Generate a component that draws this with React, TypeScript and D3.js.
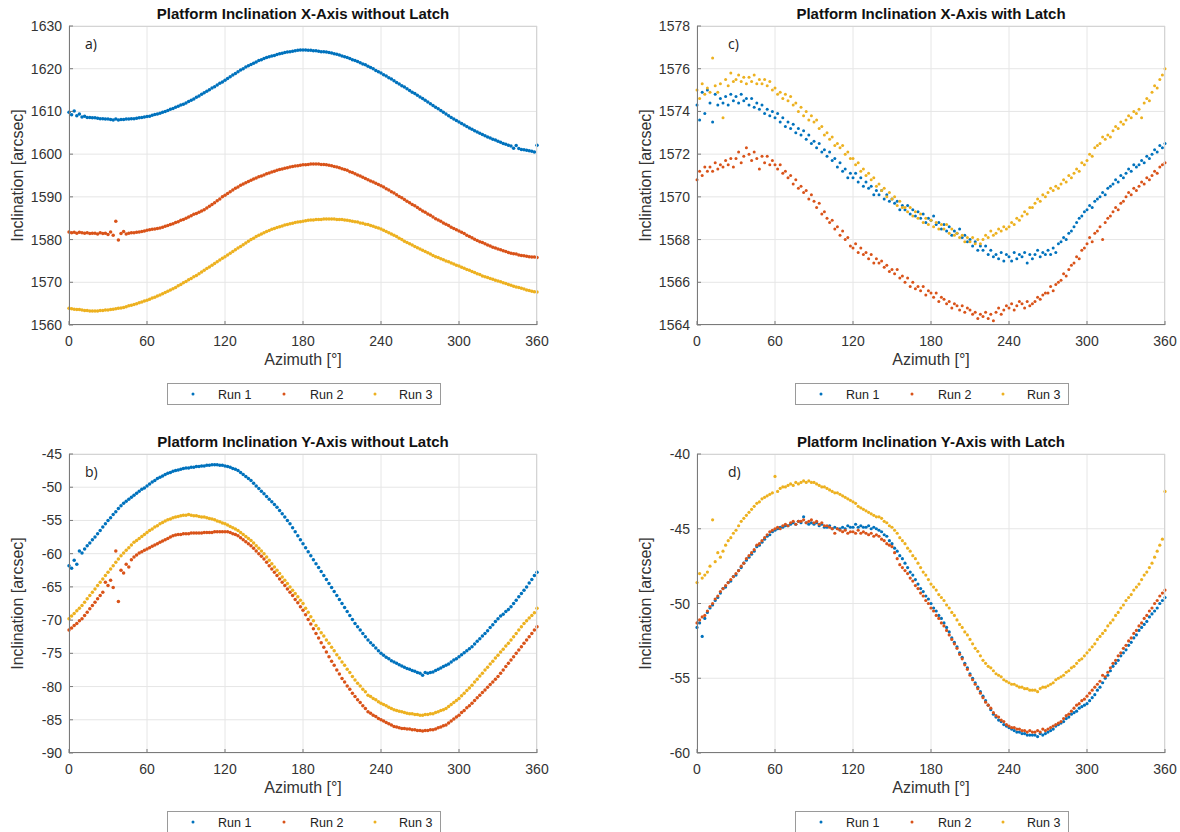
import React from 'react';
import * as d3 from 'd3';

// azimuth samples, degrees
const azimuth = [
  0, 2, 4, 6, 8, 10, 12, 14, 16, 18, 20, 22, 24, 26, 28, 30, 32, 34, 36, 38,
  40, 42, 44, 46, 48, 50, 52, 54, 56, 58, 60, 62, 64, 66, 68, 70, 72, 74, 76, 78,
  80, 82, 84, 86, 88, 90, 92, 94, 96, 98, 100, 102, 104, 106, 108, 110, 112, 114, 116, 118,
  120, 122, 124, 126, 128, 130, 132, 134, 136, 138, 140, 142, 144, 146, 148, 150, 152, 154, 156, 158,
  160, 162, 164, 166, 168, 170, 172, 174, 176, 178, 180, 182, 184, 186, 188, 190, 192, 194, 196, 198,
  200, 202, 204, 206, 208, 210, 212, 214, 216, 218, 220, 222, 224, 226, 228, 230, 232, 234, 236, 238,
  240, 242, 244, 246, 248, 250, 252, 254, 256, 258, 260, 262, 264, 266, 268, 270, 272, 274, 276, 278,
  280, 282, 284, 286, 288, 290, 292, 294, 296, 298, 300, 302, 304, 306, 308, 310, 312, 314, 316, 318,
  320, 322, 324, 326, 328, 330, 332, 334, 336, 338, 340, 342, 344, 346, 348, 350, 352, 354, 356, 358,
  360,
];

const xTicks = [0, 60, 120, 180, 240, 300, 360];
const runNames = ['Run 1', 'Run 2', 'Run 3'];
const runColors = ['#0072BD', '#D95319', '#EDB120'];

// a) X-axis without latch
const xNoLatchRun1 = [
  1609.8, 1609.2, 1610.1, 1609.0, 1609.4, 1608.7, 1608.9, 1608.6, 1608.6, 1608.5,
  1608.5, 1608.4, 1608.3, 1608.3, 1608.2, 1608.2, 1608.1, 1608.0, 1608.2, 1608.0,
  1608.1, 1608.1, 1608.2, 1608.2, 1608.3, 1608.3, 1608.4, 1608.5, 1608.6, 1608.7,
  1608.8, 1608.9, 1609.1, 1609.3, 1609.4, 1609.6, 1609.8, 1610.0, 1610.2, 1610.5,
  1610.7, 1611.0, 1611.2, 1611.5, 1611.7, 1612.0, 1612.3, 1612.6, 1612.9, 1613.3,
  1613.6, 1614.0, 1614.4, 1614.7, 1615.1, 1615.5, 1615.8, 1616.2, 1616.6, 1616.9,
  1617.3, 1617.7, 1618.1, 1618.5, 1618.9, 1619.3, 1619.7, 1620.0, 1620.4, 1620.7,
  1621.0, 1621.3, 1621.6, 1621.9, 1622.1, 1622.4, 1622.6, 1622.8, 1623.0, 1623.1,
  1623.3, 1623.5, 1623.6, 1623.8, 1623.9, 1624.0, 1624.1, 1624.2, 1624.3, 1624.4,
  1624.4, 1624.4, 1624.3, 1624.3, 1624.2, 1624.2, 1624.1, 1624.0, 1624.0, 1623.9,
  1623.8, 1623.7, 1623.5, 1623.4, 1623.2, 1623.0, 1622.8, 1622.6, 1622.4, 1622.1,
  1621.9, 1621.7, 1621.4, 1621.1, 1620.9, 1620.6, 1620.3, 1620.0, 1619.6, 1619.3,
  1619.0, 1618.6, 1618.3, 1617.9, 1617.6, 1617.2, 1616.8, 1616.4, 1616.0, 1615.7,
  1615.3, 1614.9, 1614.5, 1614.2, 1613.8, 1613.4, 1613.0, 1612.6, 1612.2, 1611.8,
  1611.4, 1611.0, 1610.6, 1610.2, 1609.8, 1609.4, 1609.0, 1608.6, 1608.2, 1607.9,
  1607.5, 1607.2, 1606.8, 1606.5, 1606.1, 1605.8, 1605.5, 1605.2, 1604.9, 1604.6,
  1604.3, 1604.0, 1603.8, 1603.5, 1603.3, 1603.0, 1602.8, 1602.5, 1602.3, 1602.1,
  1601.9, 1601.4, 1602.0, 1601.3, 1601.1, 1601.0, 1600.9, 1600.8, 1600.7, 1600.5,
  1602.1,
];
const xNoLatchRun2 = [
  1581.8, 1581.6, 1581.7, 1581.5, 1581.7, 1581.6, 1581.5, 1581.6, 1581.4, 1581.5,
  1581.5, 1581.3, 1581.6, 1581.4, 1581.5, 1581.2, 1581.8, 1581.0, 1584.3, 1579.9,
  1581.4, 1581.9, 1581.3, 1581.5, 1581.6, 1581.6, 1581.7, 1581.8, 1581.9, 1582.0,
  1582.2, 1582.3, 1582.4, 1582.5, 1582.6, 1582.7, 1582.9, 1583.1, 1583.3, 1583.5,
  1583.7, 1584.0, 1584.2, 1584.5, 1584.7, 1585.0, 1585.3, 1585.6, 1585.9, 1586.1,
  1586.4, 1586.7, 1587.0, 1587.4, 1587.8, 1588.2, 1588.6, 1589.1, 1589.5, 1590.0,
  1590.4, 1590.8, 1591.2, 1591.6, 1592.0, 1592.3, 1592.7, 1593.0, 1593.3, 1593.6,
  1593.9, 1594.2, 1594.4, 1594.7, 1594.9, 1595.1, 1595.4, 1595.6, 1595.8, 1596.0,
  1596.2, 1596.4, 1596.5, 1596.7, 1596.8, 1597.0, 1597.1, 1597.2, 1597.3, 1597.4,
  1597.5, 1597.5, 1597.6, 1597.7, 1597.7, 1597.7, 1597.7, 1597.6, 1597.6, 1597.5,
  1597.4, 1597.3, 1597.1, 1597.0, 1596.8, 1596.6, 1596.4, 1596.2, 1595.9, 1595.7,
  1595.4, 1595.1, 1594.9, 1594.6, 1594.3, 1594.0, 1593.7, 1593.5, 1593.2, 1592.9,
  1592.6, 1592.3, 1591.9, 1591.6, 1591.2, 1590.9, 1590.5, 1590.1, 1589.8, 1589.4,
  1589.0, 1588.6, 1588.2, 1587.9, 1587.5, 1587.1, 1586.7, 1586.4, 1586.0, 1585.7,
  1585.3, 1584.9, 1584.6, 1584.3, 1583.9, 1583.6, 1583.3, 1582.9, 1582.6, 1582.3,
  1582.0, 1581.7, 1581.4, 1581.0, 1580.7, 1580.4, 1580.1, 1579.8, 1579.5, 1579.3,
  1579.0, 1578.7, 1578.5, 1578.2, 1578.0, 1577.8, 1577.6, 1577.4, 1577.2, 1577.0,
  1576.8, 1576.7, 1576.6, 1576.4, 1576.3, 1576.2, 1576.1, 1576.0, 1575.9, 1575.9,
  1575.8,
];
const xNoLatchRun3 = [
  1563.9, 1563.8, 1563.7, 1563.6, 1563.6, 1563.5, 1563.4, 1563.4, 1563.3, 1563.3,
  1563.3, 1563.3, 1563.4, 1563.4, 1563.5, 1563.5, 1563.6, 1563.7, 1563.8, 1563.9,
  1564.0, 1564.1, 1564.3, 1564.5, 1564.6, 1564.8, 1565.0, 1565.2, 1565.4, 1565.6,
  1565.8, 1566.0, 1566.3, 1566.5, 1566.8, 1567.0, 1567.3, 1567.6, 1567.9, 1568.2,
  1568.5, 1568.8, 1569.2, 1569.5, 1569.9, 1570.2, 1570.6, 1570.9, 1571.3, 1571.6,
  1572.0, 1572.4, 1572.8, 1573.2, 1573.6, 1574.0, 1574.4, 1574.8, 1575.2, 1575.6,
  1576.0, 1576.4, 1576.8, 1577.2, 1577.6, 1578.0, 1578.4, 1578.8, 1579.2, 1579.6,
  1580.0, 1580.3, 1580.7, 1581.0, 1581.3, 1581.6, 1581.9, 1582.1, 1582.4, 1582.6,
  1582.8, 1583.0, 1583.2, 1583.4, 1583.5, 1583.7, 1583.8, 1584.0, 1584.1, 1584.2,
  1584.3, 1584.4, 1584.5, 1584.6, 1584.6, 1584.7, 1584.7, 1584.7, 1584.8, 1584.8,
  1584.8, 1584.8, 1584.8, 1584.7, 1584.7, 1584.7, 1584.6, 1584.5, 1584.4, 1584.3,
  1584.2, 1584.1, 1583.9, 1583.8, 1583.6, 1583.5, 1583.3, 1583.1, 1582.9, 1582.7,
  1582.5, 1582.2, 1581.9, 1581.6, 1581.3, 1581.0, 1580.7, 1580.3, 1580.0, 1579.6,
  1579.3, 1579.0, 1578.7, 1578.4, 1578.1, 1577.8, 1577.5, 1577.2, 1576.9, 1576.6,
  1576.3, 1576.0, 1575.8, 1575.5, 1575.3, 1575.0, 1574.8, 1574.5, 1574.3, 1574.0,
  1573.8, 1573.5, 1573.3, 1573.0, 1572.8, 1572.5, 1572.3, 1572.0, 1571.8, 1571.5,
  1571.3, 1571.1, 1570.9, 1570.7, 1570.5, 1570.3, 1570.1, 1569.9, 1569.7, 1569.5,
  1569.3, 1569.1, 1568.9, 1568.8, 1568.6, 1568.4, 1568.2, 1568.1, 1567.9, 1567.8,
  1567.7,
];

// b) Y-axis without latch
const yNoLatchRun1 = [
  -61.8, -62.2, -61.0, -61.6, -59.6, -59.9, -59.3, -58.8, -58.4, -57.9,
  -57.5, -57.0, -56.5, -56.0, -55.5, -55.0, -54.6, -54.1, -53.7, -53.2,
  -52.8, -52.4, -52.1, -51.8, -51.5, -51.2, -50.9, -50.6, -50.3, -50.1,
  -49.8, -49.5, -49.2, -49.0, -48.7, -48.5, -48.3, -48.1, -47.9, -47.8,
  -47.6, -47.5, -47.4, -47.3, -47.2, -47.1, -47.1, -47.0, -47.0, -46.9,
  -46.9, -46.8, -46.8, -46.7, -46.7, -46.6, -46.6, -46.6, -46.7, -46.7,
  -46.8, -46.9, -47.0, -47.2, -47.3, -47.5, -47.8, -48.1, -48.4, -48.7,
  -49.0, -49.4, -49.8, -50.2, -50.6, -51.0, -51.4, -51.8, -52.2, -52.6,
  -53.0, -53.5, -54.0, -54.5, -55.0, -55.5, -56.1, -56.7, -57.3, -57.9,
  -58.5, -59.1, -59.7, -60.3, -60.9, -61.5, -62.1, -62.7, -63.3, -63.9,
  -64.5, -65.1, -65.7, -66.3, -66.9, -67.5, -68.1, -68.7, -69.3, -69.9,
  -70.5, -71.0, -71.5, -72.0, -72.5, -73.0, -73.4, -73.8, -74.2, -74.6,
  -75.0, -75.3, -75.6, -75.8, -76.1, -76.3, -76.5, -76.7, -76.9, -77.1,
  -77.3, -77.4, -77.6, -77.7, -77.9, -78.0, -78.3, -77.9, -78.0, -77.9,
  -77.8, -77.6, -77.4, -77.2, -77.0, -76.8, -76.6, -76.3, -76.0, -75.8,
  -75.5, -75.2, -74.9, -74.6, -74.3, -74.0, -73.6, -73.2, -72.8, -72.4,
  -72.0, -71.6, -71.1, -70.7, -70.2, -69.8, -69.4, -69.1, -68.7, -68.4,
  -68.0, -67.5, -67.0, -66.5, -66.0, -65.5, -65.0, -64.4, -63.9, -63.3,
  -62.8,
];
const yNoLatchRun2 = [
  -71.5, -71.2, -70.8, -70.5, -70.1, -69.8, -69.3, -68.8, -68.3, -67.8,
  -67.3, -66.8, -66.3, -65.8, -64.3, -64.8, -64.0, -65.1, -59.6, -67.2,
  -62.5, -62.9, -61.6, -62.0, -60.9, -60.5, -60.2, -59.9, -59.7, -59.5,
  -59.3, -59.1, -58.9, -58.7, -58.5, -58.3, -58.1, -57.9, -57.7, -57.5,
  -57.3, -57.2, -57.1, -57.1, -57.0, -57.0, -57.0, -56.9, -56.9, -56.9,
  -56.9, -56.9, -56.8, -56.8, -56.8, -56.8, -56.7, -56.7, -56.7, -56.7,
  -56.7, -56.7, -56.8, -57.0, -57.1, -57.3, -57.6, -57.9, -58.2, -58.5,
  -58.8, -59.2, -59.6, -60.0, -60.4, -60.8, -61.3, -61.8, -62.3, -62.8,
  -63.3, -63.8, -64.3, -64.8, -65.3, -65.8, -66.3, -66.9, -67.4, -68.0,
  -68.5, -69.2, -69.9, -70.6, -71.3, -72.0, -72.7, -73.4, -74.1, -74.8,
  -75.5, -76.2, -76.8, -77.5, -78.1, -78.8, -79.3, -79.9, -80.4, -81.0,
  -81.5, -82.0, -82.4, -82.9, -83.3, -83.8, -84.0, -84.3, -84.5, -84.8,
  -85.0, -85.2, -85.4, -85.6, -85.8, -86.0, -86.1, -86.2, -86.3, -86.3,
  -86.4, -86.4, -86.5, -86.5, -86.6, -86.6, -86.7, -86.6, -86.6, -86.5,
  -86.5, -86.4, -86.2, -86.1, -85.9, -85.8, -85.5, -85.2, -84.9, -84.6,
  -84.3, -83.9, -83.6, -83.2, -82.9, -82.5, -82.1, -81.7, -81.3, -80.9,
  -80.5, -80.1, -79.7, -79.3, -78.9, -78.5, -78.0, -77.5, -77.0, -76.5,
  -76.0, -75.5, -75.0, -74.5, -74.0, -73.5, -73.0, -72.5, -72.0, -71.5,
  -71.0,
];
const yNoLatchRun3 = [
  -69.8, -69.4, -69.0, -68.6, -68.2, -67.8, -67.3, -66.8, -66.3, -65.8,
  -65.3, -64.8, -64.3, -63.8, -63.3, -62.8, -62.3, -61.8, -61.3, -60.8,
  -60.3, -59.9, -59.5, -59.1, -58.7, -58.3, -58.0, -57.7, -57.4, -57.1,
  -56.8, -56.5, -56.3, -56.0, -55.8, -55.5, -55.3, -55.1, -54.9, -54.8,
  -54.6, -54.5, -54.4, -54.3, -54.2, -54.2, -54.1, -54.2, -54.3, -54.3,
  -54.4, -54.5, -54.5, -54.6, -54.7, -54.8, -54.9, -55.1, -55.2, -55.4,
  -55.5, -55.7, -55.9, -56.1, -56.3, -56.5, -56.8, -57.1, -57.4, -57.7,
  -58.0, -58.4, -58.8, -59.2, -59.6, -60.0, -60.5, -61.0, -61.5, -62.0,
  -62.5, -63.0, -63.5, -64.0, -64.5, -65.0, -65.5, -66.0, -66.5, -67.0,
  -67.5, -68.2, -68.8, -69.5, -70.1, -70.8, -71.3, -71.9, -72.4, -73.0,
  -73.5, -74.1, -74.6, -75.2, -75.7, -76.3, -76.8, -77.4, -77.9, -78.5,
  -79.0, -79.5, -79.9, -80.4, -80.8, -81.3, -81.5, -81.8, -82.0, -82.3,
  -82.5, -82.7, -82.9, -83.1, -83.3, -83.5, -83.6, -83.7, -83.8, -83.9,
  -84.0, -84.1, -84.1, -84.2, -84.2, -84.3, -84.3, -84.2, -84.2, -84.1,
  -84.1, -83.9, -83.8, -83.6, -83.5, -83.3, -83.0, -82.7, -82.4, -82.1,
  -81.8, -81.4, -81.0, -80.6, -80.2, -79.8, -79.3, -78.9, -78.4, -78.0,
  -77.5, -77.1, -76.6, -76.2, -75.7, -75.3, -74.8, -74.4, -73.9, -73.5,
  -73.0, -72.5, -72.0, -71.5, -71.0, -70.5, -70.1, -69.7, -69.3, -68.9,
  -68.2,
];

// c) X-axis with latch
const xLatchRun1 = [
  1574.3, 1573.6, 1574.9, 1573.9, 1575.0, 1574.4, 1573.5, 1574.8, 1574.3, 1574.6,
  1574.4, 1574.7, 1574.3, 1574.8, 1574.5, 1574.7, 1574.4, 1574.8, 1574.5, 1574.6,
  1574.3, 1574.6, 1574.2, 1574.4, 1574.1, 1574.3, 1573.9, 1574.1, 1573.8, 1574.0,
  1573.7, 1573.9, 1573.5, 1573.7, 1573.3, 1573.5, 1573.2, 1573.4, 1573.0, 1573.2,
  1572.9, 1573.1, 1572.7, 1572.9, 1572.5, 1572.6, 1572.3, 1572.5, 1572.1, 1572.2,
  1571.9, 1572.1, 1571.7, 1571.8, 1571.4, 1571.6, 1571.2, 1571.3, 1570.9, 1571.1,
  1570.9, 1571.1, 1570.7, 1570.9, 1570.5, 1570.7, 1570.4, 1570.5, 1570.1, 1570.3,
  1570.1, 1570.3, 1569.9, 1570.1, 1569.8, 1569.9, 1569.7, 1569.8, 1569.4, 1569.6,
  1569.4, 1569.6, 1569.2, 1569.4, 1569.1, 1569.3, 1569.0, 1569.2, 1568.8, 1569.0,
  1568.9, 1569.1, 1568.7, 1568.8, 1568.5, 1568.7, 1568.4, 1568.6, 1568.2, 1568.4,
  1568.3, 1568.5, 1568.1, 1568.2, 1567.9, 1568.0, 1567.7, 1567.9, 1567.5, 1567.7,
  1567.5, 1567.7, 1567.3, 1567.5, 1567.2, 1567.3, 1567.1, 1567.4, 1567.0, 1567.3,
  1567.2, 1567.0, 1567.4, 1567.1, 1567.3, 1567.2, 1567.4, 1566.9, 1567.3, 1567.1,
  1567.3, 1567.5, 1567.2, 1567.4, 1567.3, 1567.5, 1567.3, 1567.6, 1567.4, 1567.8,
  1567.9, 1568.1, 1568.0, 1568.3, 1568.4, 1568.6, 1568.8, 1569.0, 1569.1, 1569.3,
  1569.4, 1569.6, 1569.5, 1569.8, 1569.9, 1570.0, 1570.2, 1570.1, 1570.4, 1570.5,
  1570.6, 1570.8, 1570.7, 1571.0, 1570.9, 1571.1, 1571.3, 1571.2, 1571.5, 1571.4,
  1571.5, 1571.7, 1571.6, 1571.9, 1571.8, 1572.0, 1572.2, 1572.1, 1572.4, 1572.3,
  1572.5,
];
const xLatchRun2 = [
  1570.8, 1571.2, 1571.0, 1571.4, 1571.2, 1571.4, 1571.2, 1571.6, 1571.3, 1571.5,
  1571.4, 1571.7, 1571.5, 1571.8, 1571.4, 1571.8, 1572.1, 1571.6, 1571.9, 1572.3,
  1572.0, 1571.7, 1572.1, 1571.8, 1571.3, 1571.9, 1571.6, 1571.9, 1571.5, 1571.7,
  1571.5, 1571.3, 1571.5, 1571.1, 1571.2, 1570.9, 1571.0, 1570.6, 1570.8, 1570.4,
  1570.5, 1570.2, 1570.3, 1569.9, 1570.1, 1569.8, 1569.5, 1569.7, 1569.2, 1569.3,
  1569.0, 1568.8, 1568.9, 1568.5, 1568.6, 1568.2, 1568.4, 1568.0, 1568.1, 1567.7,
  1567.6, 1567.8, 1567.4, 1567.6, 1567.3, 1567.4, 1567.1, 1567.3, 1566.9, 1567.1,
  1566.9, 1567.0, 1566.7, 1566.8, 1566.5, 1566.6, 1566.4, 1566.6, 1566.2, 1566.3,
  1566.0, 1566.2, 1565.8, 1566.0, 1565.7, 1565.8, 1565.6, 1565.8, 1565.4, 1565.6,
  1565.5, 1565.3, 1565.5, 1565.1, 1565.3, 1565.2, 1565.0, 1565.1, 1564.8, 1565.0,
  1564.9, 1564.7, 1564.9, 1564.6, 1564.8, 1564.7, 1564.5, 1564.6, 1564.3, 1564.5,
  1564.4, 1564.6, 1564.3, 1564.5, 1564.2, 1564.6, 1564.8, 1564.5, 1564.7, 1564.9,
  1564.8, 1565.0, 1564.7, 1564.9, 1565.1, 1565.0, 1564.8, 1565.1, 1564.9, 1565.0,
  1565.1, 1565.3, 1565.2, 1565.4, 1565.5, 1565.5, 1565.8, 1565.6, 1565.9, 1566.0,
  1566.1, 1566.4, 1566.3, 1566.6, 1566.8, 1566.9, 1567.2, 1567.1, 1567.5, 1567.6,
  1567.8, 1568.1, 1567.9, 1568.3, 1568.4, 1568.6, 1568.0, 1568.8, 1569.0, 1569.1,
  1569.3, 1569.5, 1569.4, 1569.7, 1569.8, 1570.0, 1570.2, 1570.1, 1570.4, 1570.3,
  1570.5, 1570.7, 1570.6, 1570.9, 1570.8, 1571.0, 1571.2, 1571.1, 1571.4, 1571.5,
  1571.6,
];
const xLatchRun3 = [
  1575.0, 1574.6, 1575.3, 1574.8, 1575.1, 1574.9, 1576.5, 1575.2, 1574.9, 1575.3,
  1573.7, 1575.5, 1575.2, 1575.8, 1575.4, 1575.5, 1575.7, 1575.4, 1575.6, 1575.3,
  1575.6, 1575.4, 1575.7, 1575.3, 1575.5, 1575.3, 1575.5, 1575.2, 1575.4, 1575.0,
  1575.1, 1574.8, 1574.9, 1574.6, 1574.8, 1574.5, 1574.7, 1574.3, 1574.4, 1574.0,
  1574.2, 1573.8, 1574.0, 1573.6, 1573.8, 1573.5, 1573.6, 1573.2, 1573.3, 1572.9,
  1573.0, 1572.7, 1572.8, 1572.4, 1572.5, 1572.3, 1572.4, 1572.0, 1572.1, 1571.8,
  1571.8, 1571.5, 1571.6, 1571.2, 1571.3, 1571.0, 1571.1, 1570.8, 1570.9, 1570.5,
  1570.6, 1570.3, 1570.4, 1570.0, 1570.2, 1569.9, 1570.0, 1569.6, 1569.8, 1569.5,
  1569.5, 1569.3, 1569.5, 1569.1, 1569.3, 1569.0, 1569.2, 1568.8, 1569.0, 1568.7,
  1568.9, 1568.6, 1568.8, 1568.5, 1568.7, 1568.5, 1568.7, 1568.3, 1568.5, 1568.2,
  1568.3, 1568.1, 1568.2, 1567.9, 1568.1, 1567.9, 1568.1, 1567.8, 1568.0, 1567.8,
  1568.0, 1568.2, 1568.1, 1568.4, 1568.2, 1568.3, 1568.5, 1568.4, 1568.6, 1568.5,
  1568.6, 1568.8, 1568.7, 1569.0, 1568.9, 1569.1, 1569.3, 1569.2, 1569.5, 1569.5,
  1569.7, 1569.9, 1569.8, 1570.1, 1570.0, 1570.2, 1570.4, 1570.3, 1570.5, 1570.4,
  1570.6, 1570.8, 1570.7, 1571.0, 1570.9, 1571.1, 1571.3, 1571.2, 1571.6, 1571.5,
  1571.7, 1572.0, 1571.9, 1572.3, 1572.4, 1572.5, 1572.8, 1572.7, 1572.9, 1572.8,
  1573.1, 1573.3, 1573.2, 1573.5, 1573.4, 1573.6, 1573.8, 1573.7, 1574.0, 1573.9,
  1574.1, 1573.7, 1574.4, 1574.6, 1574.5, 1574.9, 1575.2, 1575.1, 1575.5, 1575.7,
  1576.0,
];

// d) Y-axis with latch
const yLatchRun1 = [
  -51.6, -51.3, -52.2, -51.0, -50.6, -50.3, -50.1, -49.8, -49.6, -49.3,
  -49.0, -48.9, -48.6, -48.5, -48.2, -48.1, -47.8, -47.6, -47.3, -47.1,
  -46.9, -46.7, -46.5, -46.2, -46.1, -45.9, -45.7, -45.5, -45.4, -45.2,
  -45.1, -45.0, -44.9, -44.9, -44.8, -44.8, -44.7, -44.6, -44.7, -44.5,
  -44.6, -44.2, -44.6, -44.7, -44.6, -44.7, -44.6, -44.8, -44.7, -44.9,
  -44.9, -44.8, -45.0, -44.9, -45.0, -45.0, -44.9, -45.0, -44.8, -44.9,
  -44.9, -44.7, -44.9, -44.8, -44.9, -44.9, -44.8, -45.0, -44.9, -45.0,
  -45.1, -45.2, -45.4, -45.5, -45.8, -46.0, -46.3, -46.5, -46.8, -47.0,
  -47.3, -47.6, -47.9, -48.1, -48.4, -48.7, -49.0, -49.2, -49.5, -49.7,
  -50.0, -50.3, -50.5, -50.8, -51.0, -51.3, -51.6, -51.9, -52.3, -52.6,
  -52.9, -53.3, -53.6, -54.0, -54.3, -54.7, -55.0, -55.3, -55.6, -55.9,
  -56.2, -56.5, -56.8, -57.1, -57.4, -57.6, -57.8, -57.9, -58.1, -58.2,
  -58.3, -58.4, -58.5, -58.6, -58.6, -58.7, -58.7, -58.8, -58.8, -58.8,
  -58.8, -58.9, -58.7, -58.8, -58.7, -58.6, -58.5, -58.4, -58.2, -58.1,
  -58.0, -57.9, -57.7, -57.6, -57.4, -57.3, -57.2, -57.0, -56.9, -56.8,
  -56.7, -56.5, -56.3, -56.1, -55.8, -55.6, -55.3, -55.0, -54.8, -54.5,
  -54.2, -54.0, -53.8, -53.5, -53.3, -53.1, -52.8, -52.6, -52.3, -52.1,
  -51.8, -51.6, -51.4, -51.2, -50.9, -50.7, -50.5, -50.3, -50.0, -49.8,
  -49.6,
];
const yLatchRun2 = [
  -51.3, -51.1, -50.9, -50.8, -50.5, -50.2, -50.0, -49.7, -49.5, -49.2,
  -49.0, -48.8, -48.6, -48.4, -48.2, -48.0, -47.8, -47.5, -47.3, -47.0,
  -46.8, -46.6, -46.4, -46.1, -46.0, -45.8, -45.6, -45.4, -45.2, -45.1,
  -45.0, -44.9, -45.0, -44.8, -44.7, -44.8, -44.6, -44.5, -44.7, -44.5,
  -44.5, -44.4, -44.6, -44.5, -44.4, -44.6, -44.5, -44.7, -44.6, -44.8,
  -44.8, -44.9, -45.0, -45.3, -45.0, -45.1, -45.2, -45.1, -45.3, -45.2,
  -45.2, -45.3, -45.1, -45.3, -45.2, -45.3, -45.4, -45.3, -45.5, -45.4,
  -45.5, -45.7, -45.8, -46.0, -46.1, -46.2, -46.6, -47.0, -47.4, -47.6,
  -47.8, -48.0, -48.3, -48.5, -48.8, -49.0, -49.3, -49.5, -49.8, -50.0,
  -50.3, -50.5, -50.8, -51.0, -51.3, -51.5, -51.8, -52.1, -52.4, -52.7,
  -53.0, -53.4, -53.7, -54.1, -54.4, -54.8, -55.1, -55.4, -55.7, -56.0,
  -56.3, -56.6, -56.8, -57.0, -57.3, -57.5, -57.6, -57.8, -57.9, -58.1,
  -58.2, -58.3, -58.3, -58.4, -58.4, -58.5, -58.5, -58.6, -58.5, -58.6,
  -58.6, -58.5, -58.6, -58.4, -58.5, -58.4, -58.3, -58.2, -58.1, -58.0,
  -57.9, -57.7, -57.5, -57.4, -57.2, -57.0, -56.8, -56.7, -56.5, -56.4,
  -56.2, -56.0, -55.8, -55.6, -55.4, -55.2, -54.8, -54.9, -54.6, -54.3,
  -54.0, -53.8, -53.5, -53.3, -53.0, -52.8, -52.5, -52.3, -52.0, -51.8,
  -51.5, -51.3, -51.0, -50.8, -50.5, -50.3, -50.0, -49.8, -49.5, -49.3,
  -49.1,
];
const yLatchRun3 = [
  -48.6, -48.0, -48.3, -48.1, -47.9, -47.5, -44.4, -47.2, -46.6, -46.9,
  -46.5, -46.1, -45.8, -45.6, -45.3, -45.1, -44.8, -44.5, -44.3, -44.1,
  -43.9, -43.7, -43.5, -43.3, -43.2, -43.0, -42.9, -42.8, -42.7, -42.6,
  -41.5, -42.5, -42.3, -42.2, -42.2, -42.1, -42.0, -42.1, -41.9, -42.0,
  -41.9, -41.8, -41.9, -41.8, -41.9, -41.9, -42.0, -42.1, -42.2, -42.2,
  -42.3, -42.4, -42.5, -42.6, -42.6, -42.7, -42.8, -42.9, -43.0, -43.1,
  -43.2, -43.3, -43.5, -43.6, -43.7, -43.8, -43.9, -44.0, -44.1, -44.2,
  -44.2, -44.3, -44.5, -44.6, -44.8, -44.9, -45.1, -45.3, -45.6, -45.8,
  -46.0, -46.3, -46.5, -46.8, -47.0, -47.3, -47.6, -47.9, -48.1, -48.4,
  -48.7, -48.9, -49.1, -49.4, -49.6, -49.8, -50.1, -50.3, -50.6, -50.8,
  -51.1, -51.4, -51.6, -51.9, -52.1, -52.4, -52.7, -53.0, -53.2, -53.5,
  -53.8, -54.0, -54.2, -54.3, -54.5, -54.7, -54.8, -54.9, -55.1, -55.2,
  -55.3, -55.4, -55.4, -55.5, -55.6, -55.6, -55.7, -55.7, -55.8, -55.8,
  -55.8, -55.9, -55.7, -55.6, -55.6, -55.5, -55.4, -55.3, -55.1, -55.0,
  -54.9, -54.8, -54.6, -54.5, -54.3, -54.2, -54.0, -53.8, -53.7, -53.5,
  -53.3, -53.1, -52.9, -52.7, -52.4, -52.2, -52.0, -51.8, -51.5, -51.3,
  -51.1, -50.8, -50.6, -50.3, -50.1, -49.8, -49.6, -49.4, -49.1, -48.9,
  -48.7, -48.4, -48.1, -47.9, -47.6, -47.3, -46.9, -46.5, -46.1, -45.7,
  -42.5,
];

const yTicksA = [1560, 1570, 1580, 1590, 1600, 1610, 1620, 1630];
const yTicksB = [-90, -85, -80, -75, -70, -65, -60, -55, -50, -45];
const yTicksC = [1564, 1566, 1568, 1570, 1572, 1574, 1576, 1578];
const yTicksD = [-60, -55, -50, -45, -40];

const W = 468;
const H = 299;
const FONT = '"Liberation Sans", Arial, Helvetica, sans-serif';

const panels = [
  { title: 'Platform Inclination X-Axis without Latch', tag: 'a)', tagDx: 16, left: 69, top: 26,
    domain: [1560, 1630], ticks: yTicksA, runs: [xNoLatchRun1, xNoLatchRun2, xNoLatchRun3], dot: 1.75 },
  { title: 'Platform Inclination Y-Axis without Latch', tag: 'b)', tagDx: 16, left: 69, top: 454,
    domain: [-90, -45], ticks: yTicksB, runs: [yNoLatchRun1, yNoLatchRun2, yNoLatchRun3], dot: 1.75 },
  { title: 'Platform Inclination X-Axis with Latch', tag: 'c)', tagDx: 31, left: 697, top: 26,
    domain: [1564, 1578], ticks: yTicksC, runs: [xLatchRun1, xLatchRun2, xLatchRun3], dot: 1.5 },
  { title: 'Platform Inclination Y-Axis with Latch', tag: 'd)', tagDx: 31, left: 697, top: 454,
    domain: [-60, -40], ticks: yTicksD, runs: [yLatchRun1, yLatchRun2, yLatchRun3], dot: 1.6 },
];

function Panel({ p }) {
  const x = d3.scaleLinear().domain([0, 360]).range([0, W]);
  const y = d3.scaleLinear().domain(p.domain).range([H, 0]);
  const legendX = 98;
  const legendY = H + 58;
  const entryDx = [[26, 51], [117, 143], [208, 232]];

  return (
    <g transform={`translate(${p.left},${p.top})`}>
      <rect x={0} y={0} width={W} height={H} fill="#fff" />
      {xTicks.map(t => (
        <line key={'gx' + t} x1={x(t)} x2={x(t)} y1={0} y2={H} stroke="#e6e6e6" />
      ))}
      {p.ticks.map(t => (
        <line key={'gy' + t} x1={0} x2={W} y1={y(t)} y2={y(t)} stroke="#e6e6e6" />
      ))}
      {p.runs.map((run, r) => (
        <g key={r} fill={runColors[r]}>
          {run.map((v, i) => (
            <circle key={i} cx={x(azimuth[i])} cy={y(v)} r={p.dot} />
          ))}
        </g>
      ))}
      <line x1={0} x2={W} y1={0.5} y2={0.5} stroke="#d4d4d4" />
      <line x1={W - 0.5} x2={W - 0.5} y1={0} y2={H} stroke="#d4d4d4" />
      <line x1={0.5} x2={0.5} y1={0} y2={H} stroke="#7a7a7a" />
      <line x1={0} x2={W} y1={H - 0.5} y2={H - 0.5} stroke="#7a7a7a" />
      {xTicks.map(t => (
        <g key={'tx' + t}>
          <line x1={x(t)} x2={x(t)} y1={H} y2={H - 4} stroke="#7a7a7a" />
          <text x={x(t)} y={H + 21} textAnchor="middle" fontSize={14} fill="#333" fontFamily={FONT}>{t}</text>
        </g>
      ))}
      {p.ticks.map(t => (
        <g key={'ty' + t}>
          <line x1={0} x2={4} y1={y(t)} y2={y(t)} stroke="#7a7a7a" />
          <text x={-7} y={y(t) + 5} textAnchor="end" fontSize={14} fill="#333" fontFamily={FONT}>{t}</text>
        </g>
      ))}
      <text x={W / 2} y={-7} textAnchor="middle" fontSize={15} fontWeight="bold" fill="#111" fontFamily={FONT}>{p.title}</text>
      <text x={p.tagDx} y={23} fontSize={14} fill="#222" fontFamily='"Open Sans", sans-serif'>{p.tag}</text>
      <text x={W / 2} y={H + 40} textAnchor="middle" fontSize={16} fill="#333" fontFamily={FONT}>Azimuth [°]</text>
      <text transform={`translate(${-46},${H / 2}) rotate(-90)`} textAnchor="middle" fontSize={16} fill="#333" fontFamily={FONT}>Inclination [arcsec]</text>
      <g transform={`translate(${legendX},${legendY})`}>
        <rect x={0.5} y={0.5} width={273} height={21} fill="#fff" stroke="#9a9a9a" />
        {runNames.map((name, r) => (
          <g key={name}>
            <circle cx={entryDx[r][0]} cy={11} r={1.5} fill={runColors[r]} />
            <text x={entryDx[r][1]} y={15.5} fontSize={12.5} fill="#222" fontFamily={FONT}>{name}</text>
          </g>
        ))}
      </g>
    </g>
  );
}

export default function App() {
  return (
    <svg width={1180} height={832} style={{ position: 'absolute', left: 0, top: 0, background: '#fff' }}>
      <rect width={1180} height={832} fill="#fff" />
      {panels.map(p => <Panel key={p.tag} p={p} />)}
    </svg>
  );
}
